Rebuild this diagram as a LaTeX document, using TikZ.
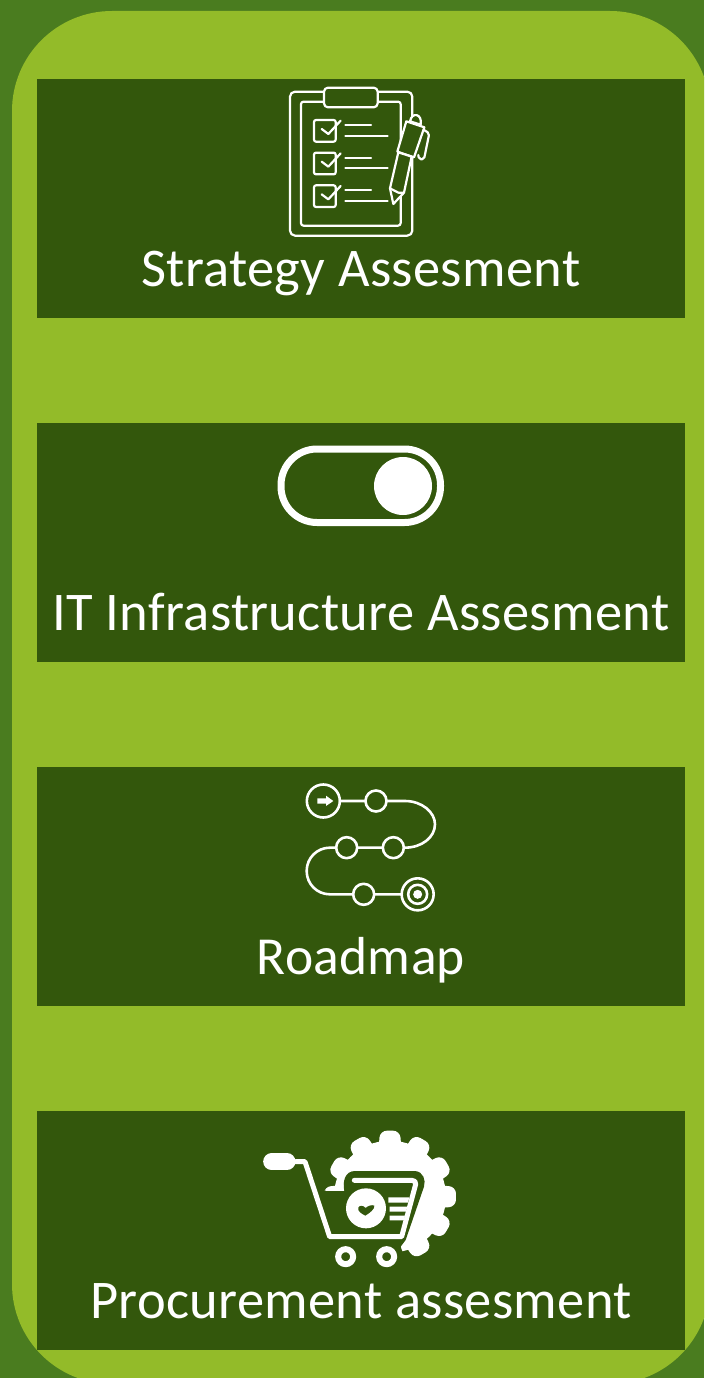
\documentclass[tikz,border=0pt]{standalone}
\usepackage{fontspec}
\setmainfont[LetterSpace=0.6]{Carlito}
\definecolor{outerg}{HTML}{4A7C1F}
\definecolor{lightg}{HTML}{93BB29}
\definecolor{darkg}{HTML}{33570C}
\tikzset{
  panel/.style={fill=darkg,draw=none,minimum width=648pt,minimum height=239pt,inner sep=0pt,outer sep=0pt,anchor=north west},
  label/.style={text=white,font=\fontsize{54.5}{60}\selectfont,anchor=base,inner sep=0pt},
  ico/.style={draw=white,line width=2.2pt,line join=round,line cap=round},
  rmap/.style={draw=white,line width=2.6pt},
  rdot/.style={draw=white,line width=2.6pt,fill=darkg},
  wfill/.style={fill=white,draw=none}
}
\begin{document}
\begin{tikzpicture}[x=1pt,y=-1pt]
\useasboundingbox (0,0) rectangle (704,1378);
\fill[outerg] (0,0) rectangle (704,1378);
\begin{scope}
\clip (0,0) rectangle (704,1378);
\fill[lightg,rounded corners=100pt] (12,11) rectangle (710,1384);
\end{scope}
\node[panel] (p1) at (37,79) {};
\node[panel] (p2) at (37,423) {};
\node[panel] (p3) at (37,767) {};
\node[panel] (p4) at (37,1111) {};
\node[label] (t1) at (361,286) {Strategy Assesment};
\node[label] (t2) at (361,630) {IT Infrastructure Assesment};
\node[label,font=\fontsize{53.5}{60}\selectfont] (t3) at (361,974) {Roadmap};
\node[label] (t4) at (361,1318) {Procurement assesment};
% clipboard
\begin{scope}[shift={(270,80)},x=0.3333pt,y=-0.3333pt]
\draw[ico,rounded corners=5pt] (60,35) rectangle (427,467);
\draw[ico,rounded corners=2.5pt] (93,65) rectangle (392,437);
\draw[ico,fill=darkg,rounded corners=4pt] (162,23) rectangle (323,82);
\foreach \yy in {0,98,196}{
 \draw[ico,rounded corners=2pt] (132,120+\yy) rectangle (197,185+\yy);
 \draw[ico] (155,147+\yy) -- (175,162+\yy) -- (212,122+\yy);
 \draw[ico] (226,135+\yy) -- (303,135+\yy);
 \draw[ico] (226,167+\yy) -- (353,167+\yy);
}
\draw[ico,fill=darkg] (420,124) .. controls (425,95) and (458,100) .. (452,134) -- cycle;
\draw[ico,fill=darkg,rounded corners=2pt] (462,150) -- (478,160) -- (462,238) -- (447,238) -- (445,225);
\draw[ico,fill=darkg] (409,124) -- (463,142) -- (432,232) -- (382,215) -- cycle;
\draw[ico,fill=darkg] (385,217) -- (360,325) -- (370,372) -- (402,338) -- (425,230) -- cycle;
\draw[ico] (360,325) -- (385,338) -- (402,338);
\end{scope}
% toggle
\draw[white,line width=7pt,rounded corners=36pt,fill=darkg] (281,449) rectangle (440.5,522.5);
\fill[white] (403,486) circle (29pt);
% roadmap
\begin{scope}[shift={(290,775)},x=0.3333pt,y=-0.3333pt]
\coordinate (r1) at (100,78);
\coordinate (r2) at (258,78);
\coordinate (r3) at (310,218);
\coordinate (r4) at (170,218);
\coordinate (r5) at (221,358);
\coordinate (r6) at (383,358);
\draw[rmap] (r1) -- (345,78) .. controls (395,78) and (435,111) .. (435,148) .. controls (435,187) and (395,218) .. (345,218) -- (120,218) .. controls (81,218) and (50,249) .. (50,288) .. controls (50,327) and (81,358) .. (120,358) -- (r6);
\draw[rdot] (r1) circle (16.5pt);
\draw[rdot] (r2) circle (10.5pt);
\draw[rdot] (r3) circle (10.5pt);
\draw[rdot] (r4) circle (10.5pt);
\draw[rdot] (r5) circle (10.5pt);
\draw[rdot] (r6) circle (16pt);
\draw[rmap] (r6) circle (9.5pt);
\fill[white] (r6) circle (4.5pt);
\fill[white] (82,70) -- (108,70) -- (108,62) -- (130,78) -- (108,93) -- (108,86) -- (82,86) -- cycle;
\end{scope}
% procurement
\begin{scope}[shift={(255,1125)},x=0.3333pt,y=-0.3333pt]
\fill[white] (405,215) circle (56pt);
\foreach \a in {-60,-30,0,30,60,90,120,150,180}{
  \fill[white,rounded corners=7pt,shift={(405,215)},rotate=\a] (120,-36) -- (198,-30) -- (198,30) -- (120,36) -- cycle;
}
\fill[darkg] (0,197) -- (268,197) .. controls (262,170) and (270,138) .. (300,138) -- (480,138) .. controls (505,140) and (513,165) .. (507,185) -- (452,345) -- (437,365) -- (450,402) -- (440,440) -- (0,440) -- cycle;
\draw[white,line width=5pt,line join=round,line cap=round] (122,110) -- (150,110) -- (224,335) -- (440,335) -- (482,178) .. controls (484,170) and (478,166) .. (470,166) -- (298,166);
\draw[white,line width=17pt,line cap=round] (50,110) -- (96,110);
\draw[white,line width=0.5pt] (213,197) -- (268,197);
\fill[white] (333,250) circle (20pt);
\fill[darkg] (331,272) .. controls (318,265) and (307,258) .. (310,248) .. controls (312,241) and (325,240) .. (332,249) .. controls (338,243) and (350,238) .. (358,242) .. controls (360,252) and (344,264) .. (331,272) -- cycle;
\fill[white] (400,217) -- (463,217) -- (459,233) -- (400,233) -- cycle;
\fill[white] (404,245) -- (457,245) -- (453,260) -- (404,260) -- cycle;
\fill[white] (404,272) -- (450,272) -- (446,286) -- (404,286) -- cycle;
\draw[white,line width=6pt] (272,395) circle (7.5pt);
\draw[white,line width=6pt] (395,395) circle (7.5pt);
\end{scope}
\end{tikzpicture}
\end{document}
